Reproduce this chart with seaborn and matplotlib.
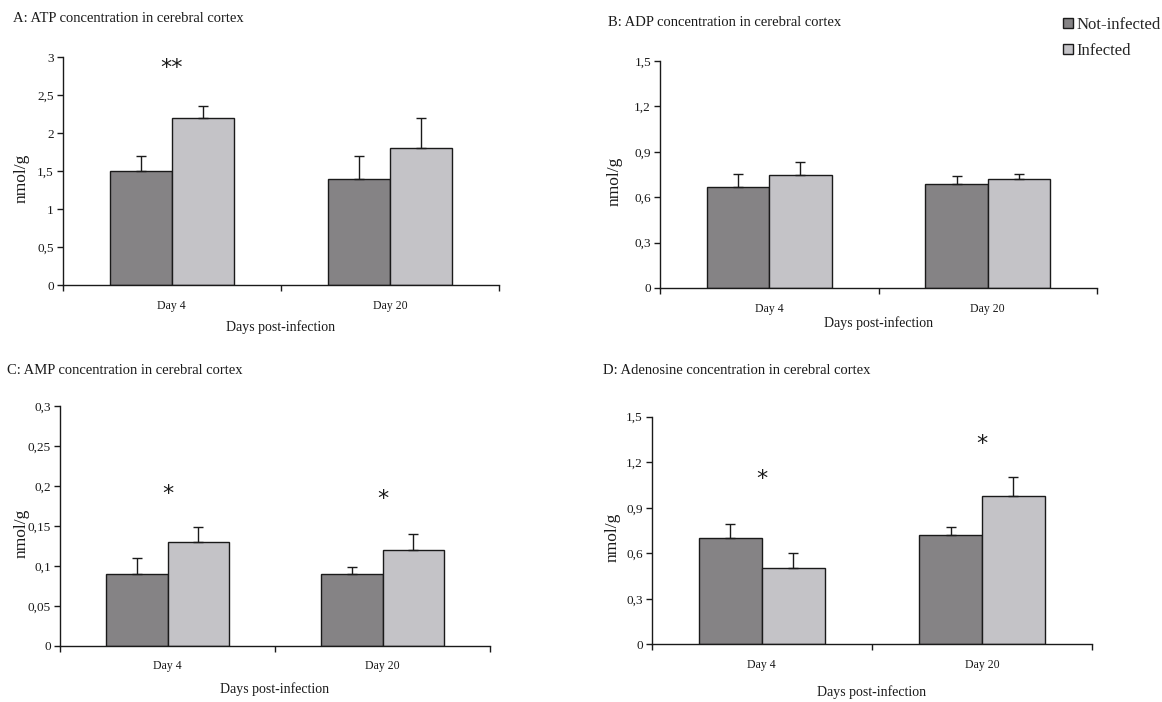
import matplotlib
matplotlib.use("Agg")
import matplotlib.pyplot as plt
import seaborn as sns
import pandas as pd
from matplotlib.patches import Patch
from matplotlib.ticker import FixedLocator

sns.set_theme(style="white")
plt.rcParams['font.family'] = ['Liberation Serif', 'DejaVu Serif']

days = ["Day 4", "Day 20"]
groups = ["Not-infected", "Infected"]

atp_ni = [1.5, 1.4]
atp_inf = [2.2, 1.8]
atp_ni_err = [0.2, 0.3]
atp_inf_err = [0.15, 0.4]

adp_ni = [0.665, 0.69]
adp_inf = [0.75, 0.72]
adp_ni_err = [0.09, 0.05]
adp_inf_err = [0.08, 0.035]

amp_ni = [0.09, 0.09]
amp_inf = [0.13, 0.12]
amp_ni_err = [0.02, 0.009]
amp_inf_err = [0.019, 0.02]

ado_ni = [0.70, 0.72]
ado_inf = [0.50, 0.98]
ado_ni_err = [0.09, 0.05]
ado_inf_err = [0.10, 0.12]

titles = ["A: ATP concentration in cerebral cortex",
          "B: ADP concentration in cerebral cortex",
          "C: AMP concentration in cerebral cortex",
          "D: Adenosine concentration in cerebral cortex"]
ymax = [3, 1.5, 0.3, 1.5]
ytick_step = [0.5, 0.3, 0.05, 0.3]
ytick_labels = [["0", "0,5", "1", "1,5", "2", "2,5", "3"],
                ["0", "0,3", "0,6", "0,9", "1,2", "1,5"],
                ["0", "0,05", "0,1", "0,15", "0,2", "0,25", "0,3"],
                ["0", "0,3", "0,6", "0,9", "1,2", "1,5"]]
# significance marks: (day index, label, y value)
sig_marks = [[(0, "**", 2.86)], [], [(0, "*", 0.19), (1, "*", 0.183)],
             [(0, "*", 1.09), (1, "*", 1.317)]]

colors = {"Not-infected": "#858385", "Infected": "#c4c3c7"}

data_sets = [(atp_ni, atp_inf, atp_ni_err, atp_inf_err),
             (adp_ni, adp_inf, adp_ni_err, adp_inf_err),
             (amp_ni, amp_inf, amp_ni_err, amp_inf_err),
             (ado_ni, ado_inf, ado_ni_err, ado_inf_err)]

W, H = 1162, 702
fig = plt.figure(figsize=(W / 100, H / 100), dpi=100)

# axes in pixel coords: left, right, top, bottom
ax_px = [(62.7, 499, 57, 285), (660, 1097, 61, 288),
         (60, 490, 406, 645.7), (651.7, 1092, 416.7, 644.3)]
xlabel_y = [-0.186, -0.154, -0.18, -0.21]
ylabel_x = [-0.094, -0.103, -0.089, -0.088]
title_pos = [(13, 19), (608, 22), (7, 371), (603, 371)]

for i, (ni, inf, ni_e, inf_e) in enumerate(data_sets):
    l, r, t, b = ax_px[i]
    ax = fig.add_axes([l / W, 1 - b / H, (r - l) / W, (b - t) / H])
    df = pd.DataFrame({
        "day": days * 2,
        "group": [groups[0]] * 2 + [groups[1]] * 2,
        "value": ni + inf,
        "err": ni_e + inf_e,
    })
    sns.barplot(data=df, x="day", y="value", hue="group", order=days,
                hue_order=groups, palette=colors, width=0.57, ax=ax,
                edgecolor="#1a1a1a", linewidth=1.0, legend=False,
                errorbar=None, saturation=1)
    # error bars (upper only), positioned at the bars drawn by seaborn
    bars = [p for p in ax.patches]
    for gi, g in enumerate(groups):
        sub = df[df.group == g]
        for di in range(len(days)):
            p = bars[gi * len(days) + di]
            xc = p.get_x() + p.get_width() / 2
            val = sub["value"].iloc[di]
            e = sub["err"].iloc[di]
            ax.errorbar([xc], [val], yerr=[[0], [e]], fmt="none",
                        ecolor="#1a1a1a", elinewidth=1.0, capsize=3.5,
                        capthick=1.0, zorder=1)
    ax.set_xlim(-0.5, 1.5)
    ax.set_ylim(0, ymax[i])
    n = len(ytick_labels[i])
    yt = [k * ytick_step[i] for k in range(n)]
    ax.set_yticks(yt)
    ax.set_yticklabels(ytick_labels[i])
    ax.xaxis.set_minor_locator(FixedLocator([-0.5, 0.5, 1.5]))
    ax.tick_params(axis="x", which="major", length=0, pad=10.5, labelsize=8.5,
                   labelcolor="#1a1a1a")
    ax.tick_params(axis="x", which="minor", length=4, width=1, direction="out",
                   color="#1a1a1a", bottom=True)
    ax.tick_params(axis="y", which="major", length=4, width=1, direction="out",
                   color="#1a1a1a", left=True, pad=2.5, labelsize=9.5,
                   labelcolor="#1a1a1a")
    for s in ["top", "right"]:
        ax.spines[s].set_visible(False)
    for s in ["left", "bottom"]:
        ax.spines[s].set_color("#1a1a1a")
        ax.spines[s].set_linewidth(1.0)
    ax.set_xlabel("Days post-infection", fontsize=10, color="#1a1a1a")
    ax.xaxis.label.set_verticalalignment("center")
    ax.xaxis.set_label_coords(0.5, xlabel_y[i])
    ax.set_ylabel("nmol/g", fontsize=12.5, color="#1a1a1a")
    ax.yaxis.label.set_verticalalignment("center")
    ax.yaxis.set_label_coords(ylabel_x[i], 0.47)
    for (di, txt, yv) in sig_marks[i]:
        ax.text(di, yv, txt, ha="center", va="center", fontsize=16,
                color="#1a1a1a", family=["DejaVu Sans"])
    tx, ty = title_pos[i]
    fig.text(tx / W, 1 - ty / H, titles[i], fontsize=10.5, ha="left",
             va="center", color="#1a1a1a")

handles = [Patch(facecolor=colors[g], edgecolor="#1a1a1a", linewidth=1.0,
                 label=g) for g in groups]
fig.legend(handles=handles, loc="upper right", bbox_to_anchor=(1.006, 0.988),
           frameon=False, fontsize=12, handlelength=0.6, handleheight=0.6,
           handletextpad=0.2, labelspacing=0.6, borderaxespad=0.1)

fig.savefig("out.png", dpi=100, facecolor="white")
